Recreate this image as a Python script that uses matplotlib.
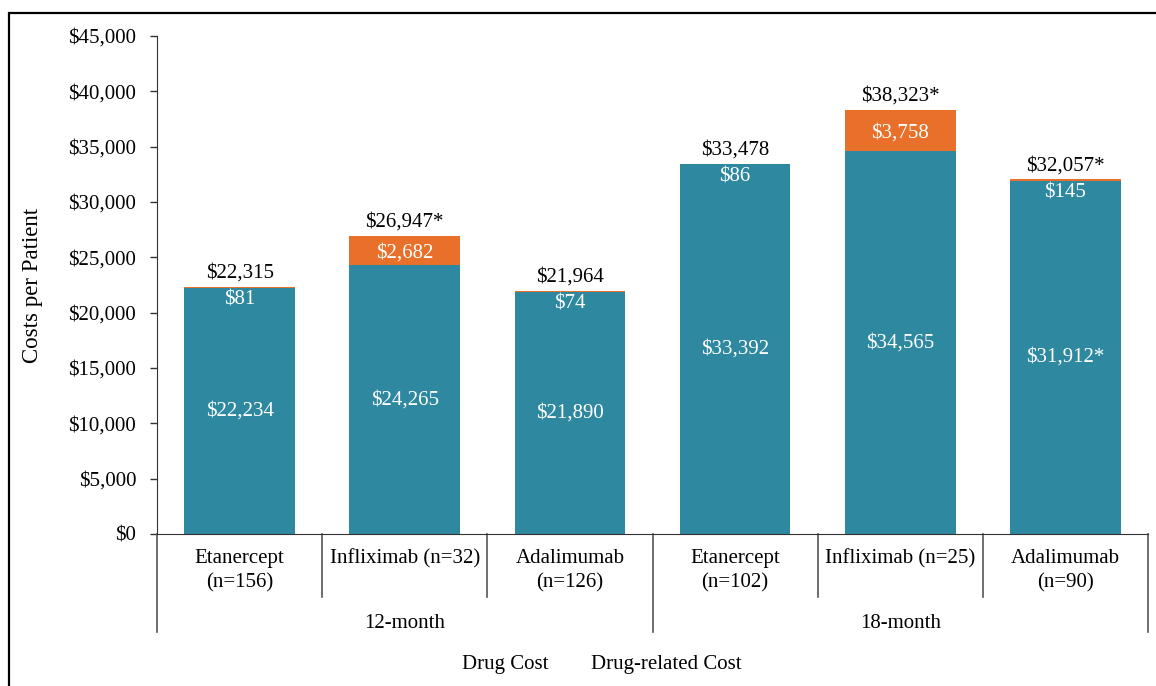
import matplotlib
matplotlib.use("Agg")
import matplotlib.pyplot as plt
import matplotlib.transforms as mtransforms
from matplotlib.patches import Rectangle

plt.rcParams['font.family'] = ['Liberation Serif', 'DejaVu Serif']

drugs = ["Etanercept\n(n=156)", "Infliximab (n=32)", "Adalimumab\n(n=126)",
         "Etanercept\n(n=102)", "Infliximab (n=25)", "Adalimumab\n(n=90)"]
groups = ["12-month", "18-month"]
drug_cost = [22234, 24265, 21890, 33392, 34565, 31912]
related_cost = [81, 2682, 74, 86, 3758, 145]
totals = [22315, 26947, 21964, 33478, 38323, 32057]
total_star = [False, True, False, False, True, True]
drug_star = [False, False, False, False, False, True]
yticks = list(range(0, 45001, 5000))

teal = "#2E88A0"
orange = "#E8702A"

fig = plt.figure(figsize=(11.56, 6.86), dpi=100)
ax = fig.add_axes([157/1156, 1-534/686, (1148-157)/1156, (534-36)/686])

x = list(range(len(drugs)))
w = 0.67
ax.bar(x, drug_cost, width=w, color=teal)
ax.bar(x, related_cost, width=w, bottom=drug_cost, color=orange)

fs = 15
for i in x:
    s = "$" + format(drug_cost[i], ",") + ("*" if drug_star[i] else "")
    ax.text(i, drug_cost[i] / 2, s, ha="center", va="center", color="white", fontsize=fs)
    top = drug_cost[i] + related_cost[i]
    yy = min(drug_cost[i] + related_cost[i] / 2, top - 950) - 250
    ax.text(i, yy, "$" + format(related_cost[i], ","), ha="center", va="center",
            color="white", fontsize=fs)
    st = "$" + format(totals[i], ",") + ("*" if total_star[i] else "")
    ax.annotate(st, (i, top), xytext=(0, 3), textcoords="offset points",
                ha="center", va="bottom", fontsize=fs, color="black")

ax.set_xlim(-0.5, len(drugs) - 0.5)
ax.set_ylim(0, 45000)
ax.set_yticks(yticks)
ax.set_yticklabels(["$" + format(v, ",") for v in yticks], fontsize=fs)
ax.tick_params(axis="y", length=5, width=1, color="#333333", pad=10)
ax.set_xticks([])
for s in ["top", "right"]:
    ax.spines[s].set_visible(False)
ax.spines["left"].set_color("#333333")
ax.spines["bottom"].set_color("#333333")
ax.set_ylabel("Costs per Patient", fontsize=16.5, labelpad=18)

trans = mtransforms.blended_transform_factory(ax.transData, ax.transAxes)
short_y = -(597 - 534) / 498
long_y = -(632 - 534) / 498
for k in range(len(drugs) + 1):
    xd = k - 0.5
    yb = long_y if k in (0, 3, 6) else short_y
    ax.plot([xd, xd], [0, yb], transform=trans, color="#555555", lw=1.2, clip_on=False)
for i, lab in enumerate(drugs):
    ax.text(i, -(549 - 534) / 498, lab, transform=trans, ha="center", va="top",
            fontsize=fs, linespacing=1.35)
for g, lab in enumerate(groups):
    ax.text(g * 3 + 1, -(624 - 534) / 498, lab, transform=trans, ha="center",
            va="center", fontsize=fs)

fig.text(505/1156, 1-665/686, "Drug Cost", ha="center", va="center", fontsize=fs)
fig.text(666/1156, 1-665/686, "Drug-related Cost", ha="center", va="center", fontsize=fs)

fig.patches.append(Rectangle((9/1156, -0.1), 1.2, 1 - 13/686 + 0.1, transform=fig.transFigure,
                             fill=False, lw=1.6, edgecolor="black"))

fig.savefig("out.png", dpi=100)
